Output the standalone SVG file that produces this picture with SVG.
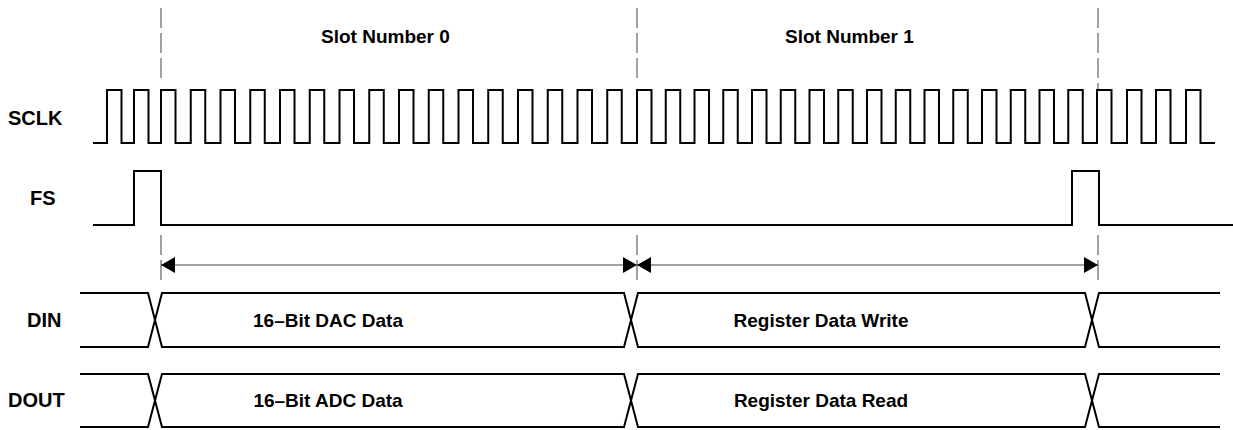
<svg xmlns="http://www.w3.org/2000/svg" width="1233" height="430" viewBox="0 0 1233 430">
<style>
.sig{fill:none;stroke:#000;stroke-width:2;stroke-linejoin:miter}
.dash{fill:none;stroke:#444;stroke-width:1;stroke-dasharray:20 5}
.dim{fill:none;stroke:#444;stroke-width:1}
.lbl{font-family:"Liberation Sans",Arial,sans-serif;font-weight:bold;font-size:20px;fill:#000}
.txt{font-family:"Liberation Sans",Arial,sans-serif;font-weight:bold;font-size:19px;fill:#000}
</style>
<defs>
<marker id="ah" viewBox="0 0 14 16" refX="14" refY="8" markerWidth="14" markerHeight="16" markerUnits="userSpaceOnUse" orient="auto-start-reverse">
<path d="M0,0 L14,8 L0,16 Z" fill="#000"/>
</marker>
</defs>
<rect width="1233" height="430" fill="#fff"/>
<g id="guides">
<line class="dash" x1="161" y1="8" x2="161" y2="82"/>
<line class="dash" x1="637" y1="8" x2="637" y2="82"/>
<line class="dash" x1="1098" y1="8" x2="1098" y2="90"/>
<line class="dash" x1="161" y1="235" x2="161" y2="280"/>
<line class="dash" x1="637" y1="235" x2="637" y2="280"/>
<line class="dash" x1="1098" y1="235" x2="1098" y2="280"/>
</g>
<g id="slot-labels">
<text class="txt" x="321" y="43">Slot Number 0</text>
<text class="txt" x="785" y="43">Slot Number 1</text>
</g>
<g id="sclk">
<text class="lbl" x="8" y="125">SCLK</text>
<path class="sig" d="M93,143 H107 V90 H121.5 V143 H134 V90 H148.5 V143 H161 V90 H175.5 V143 H190.75 V90 H205.25 V143 H220.5 V90 H235 V143 H250.25 V90 H264.75 V143 H280 V90 H294.5 V143 H309.75 V90 H324.25 V143 H339.5 V90 H354 V143 H369.25 V90 H383.75 V143 H399 V90 H413.5 V143 H428.75 V90 H443.25 V143 H458.5 V90 H473 V143 H488.25 V90 H502.75 V143 H518 V90 H532.5 V143 H547.75 V90 H562.25 V143 H577.5 V90 H592 V143 H607.25 V90 H621.75 V143 H637 V90 H651.5 V143 H665.75 V90 H680.25 V143 H694.5 V90 H709 V143 H723.25 V90 H737.75 V143 H752 V90 H766.5 V143 H780.75 V90 H795.25 V143 H809.5 V90 H824 V143 H838.25 V90 H852.75 V143 H867 V90 H881.5 V143 H895.75 V90 H910.25 V143 H924.5 V90 H939 V143 H953.25 V90 H967.75 V143 H982 V90 H996.5 V143 H1010.75 V90 H1025.25 V143 H1039.5 V90 H1054 V143 H1068.25 V90 H1082.75 V143 H1097 V90 H1111.5 V143 H1127 V90 H1141.5 V143 H1156 V90 H1170.5 V143 H1186 V90 H1200.5 V143 H1215"/>
</g>
<g id="fs">
<text class="lbl" x="30" y="205">FS</text>
<path class="sig" d="M93,225 H134 V171 H161 V225 H1072 V171 H1099 V225 H1233"/>
</g>
<g id="connectors">
<line class="dim" x1="161" y1="265" x2="637" y2="265" marker-start="url(#ah)" marker-end="url(#ah)"/>
<line class="dim" x1="637" y1="265" x2="1098" y2="265" marker-start="url(#ah)" marker-end="url(#ah)"/>
</g>
<g id="din">
<text class="lbl" x="27" y="327">DIN</text>
<path class="sig" d="M80,293 H148 L162,347 H624 L638,293 H1085 L1099,347 H1220"/>
<path class="sig" d="M80,347 H148 L162,293 H624 L638,347 H1085 L1099,293 H1220"/>
<text class="txt" x="328" y="327" text-anchor="middle">16–Bit DAC Data</text>
<text class="txt" x="821" y="327" text-anchor="middle">Register Data Write</text>
</g>
<g id="dout">
<text class="lbl" x="8" y="407">DOUT</text>
<path class="sig" d="M80,374 H148 L162,427 H624 L638,374 H1085 L1099,427 H1220"/>
<path class="sig" d="M80,427 H148 L162,374 H624 L638,427 H1085 L1099,374 H1220"/>
<text class="txt" x="328" y="407" text-anchor="middle">16–Bit ADC Data</text>
<text class="txt" x="821" y="407" text-anchor="middle">Register Data Read</text>
</g>
</svg>
